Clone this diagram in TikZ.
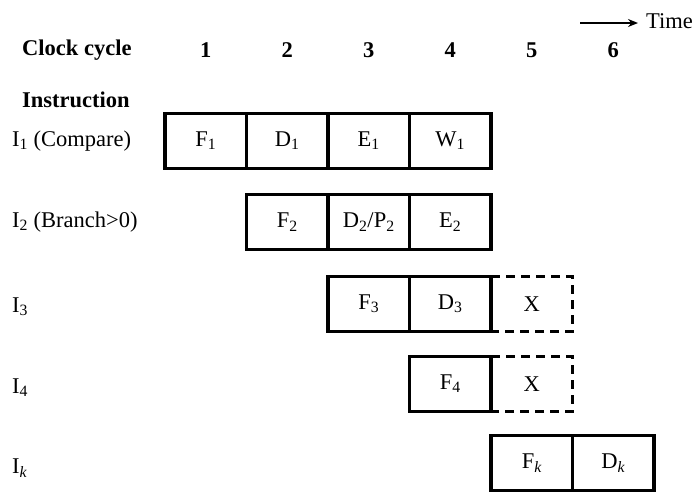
\documentclass[tikz,border=0pt]{standalone}
\usepackage{fontspec}
\setmainfont{Liberation Serif}
\usetikzlibrary{positioning,arrows.meta}
\tikzset{
 cell/.style={draw, line width=3.2pt, minimum width=81.5pt, minimum height=55pt,
              inner sep=0pt, outer sep=0pt, font=\fontsize{22.5}{26}\selectfont},
 ghost/.style={cell, draw=none},
 ghostline/.style={line width=3.2pt, dash pattern=on 9pt off 6pt},
 lbl/.style={anchor=west, inner sep=0pt, font=\fontsize{22.5}{26}\selectfont},
 head/.style={lbl, font=\fontsize{22.5}{26}\selectfont\bfseries},
 num/.style={inner sep=0pt, font=\fontsize{22.5}{26}\selectfont\bfseries},
 arr/.style={-{Stealth[length=10pt,width=8pt]}, line width=1.5pt},
}

\begin{document}
\begin{tikzpicture}[x=1pt, y=-1pt]
\useasboundingbox (0,0) rectangle (696,491);
% header
\node[head] (clk) at (22,50) {Clock cycle};
\node[head] (ins) at (22,100) {Instruction};
\foreach \i in {1,...,6}
 \node[num] (c\i) at ({124.25+81.5*\i},50) {\i};
\coordinate (tail) at (580,23);
\node[lbl] (time) at (646,21) {Time};
\draw[arr] (tail) -- ([xshift=-8pt]time.west |- tail);
% instruction labels
\node[lbl] (i1) at (12,141) {I\textsubscript{1} (Compare)};
\node[lbl] (i2) at (12,222) {I\textsubscript{2} (Branch>0)};
\node[lbl] (i3) at (12,307) {I\textsubscript{3}};
\node[lbl] (i4) at (12,388) {I\textsubscript{4}};
\node[lbl] (ik) at (12,468) {I\textsubscript{\itshape k}};
% I1
\node[cell] (f1) at (205.75,141) {F\textsubscript{1}};
\node[cell, right=0pt of f1] (d1) {D\textsubscript{1}};
\node[cell, right=0pt of d1] (e1) {E\textsubscript{1}};
\node[cell, right=0pt of e1] (w1) {W\textsubscript{1}};
% I2
\node[cell] (f2) at (287.25,222) {F\textsubscript{2}};
\node[cell, right=0pt of f2] (d2) {D\textsubscript{2}/P\textsubscript{2}};
\node[cell, right=0pt of d2] (e2) {E\textsubscript{2}};
% I3
\node[cell] (f3) at (368.75,304) {F\textsubscript{3}};
\node[cell, right=0pt of f3] (d3) {D\textsubscript{3}};
\node[ghost, right=0pt of d3] (x3) {X};
\draw[ghostline] (x3.north west) -- (x3.north east) -- (x3.south east) -- (x3.south west);
% I4
\node[cell] (f4) at (450.25,384) {F\textsubscript{4}};
\node[ghost, right=0pt of f4] (x4) {X};
\draw[ghostline] (x4.north west) -- (x4.north east) -- (x4.south east) -- (x4.south west);
% Ik
\node[cell] (fk) at (531.75,463) {F\textsubscript{\itshape k}};
\node[cell, right=0pt of fk] (dk) {D\textsubscript{\itshape k}};
\end{tikzpicture}
\end{document}
